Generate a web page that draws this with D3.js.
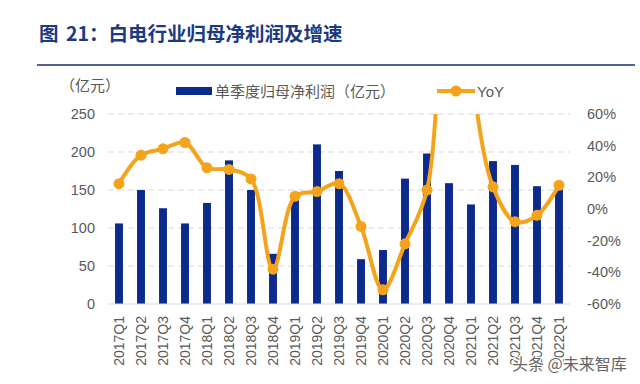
<!DOCTYPE html>
<html><head><meta charset="utf-8">
<script src="https://cdn.jsdelivr.net/npm/d3@7"></script>
<style>body{margin:0;background:#fff}svg{display:block}</style>
</head><body>
<svg id="c" width="640" height="384"></svg>
<script>
const categories = ["2017Q1","2017Q2","2017Q3","2017Q4","2018Q1","2018Q2","2018Q3","2018Q4","2019Q1","2019Q2","2019Q3","2019Q4","2020Q1","2020Q2","2020Q3","2020Q4","2021Q1","2021Q2","2021Q3","2021Q4","2022Q1"];
const profit = [106,150,126,106,133,189,150,66,143,210,175,59,71,165,198,159,131,188,183,155,151];
const yoy = [16,34,38,42,26,25,19,-38,8,11,16,-11,-51,-22,12,170,85,14,-8,-4,15];
const leftTicks = [0,50,100,150,200,250];
const rightTicks = [-60,-40,-20,0,20,40,60];

const svg = d3.select("#c");
const cjk = "'Noto Sans CJK SC','Noto Sans',sans-serif";
const lat = "'Liberation Sans','Noto Sans',sans-serif";
const m = {l:108, r:570, t:114, b:304};

const x = d3.scaleBand().domain(categories).range([m.l, m.r]).paddingInner(0.64).paddingOuter(0.32);
const yL = d3.scaleLinear().domain([0,250]).range([m.b, m.t]);
const yR = d3.scaleLinear().domain([-60,60]).range([m.b, m.t]);

// title
svg.append("text").attr("x",39).attr("y",41).attr("fill","#1B3A80").attr("font-family",cjk)
  .attr("font-weight","bold").attr("font-size",19.5).style("white-space","pre").attr("word-spacing",3)
  .text("图 21：白电行业归母净利润及增速");
svg.append("line").attr("x1",37).attr("x2",635).attr("y1",65).attr("y2",65).attr("stroke","#1B2F6E").attr("stroke-width",1.5);

// unit
svg.append("text").attr("x",60).attr("y",91).attr("fill","#595959").attr("font-family",cjk).attr("font-size",15).text("（亿元）");

// gridlines
const grid = svg.append("g");
leftTicks.filter(d=>d>0).forEach(t=>{
  grid.append("line").attr("x1",m.l).attr("x2",m.r).attr("y1",yL(t)).attr("y2",yL(t))
    .attr("stroke","#D9D9D9").attr("stroke-dasharray","6,4").attr("stroke-width",1);
});

// left axis
const axL = d3.axisLeft(yL).tickValues(leftTicks).tickSize(0).tickPadding(13);
const gL = svg.append("g").attr("transform",`translate(${m.l},0)`).call(axL);
gL.select(".domain").remove();
gL.selectAll("text").attr("fill","#595959").attr("font-family",lat).attr("font-size",14.5);

// right axis
const axR = d3.axisRight(yR).tickValues(rightTicks).tickSize(0).tickPadding(17).tickFormat(d=>d+"%");
const gR = svg.append("g").attr("transform",`translate(${m.r},0)`).call(axR);
gR.select(".domain").remove();
gR.selectAll("text").attr("fill","#595959").attr("font-family",lat).attr("font-size",14.5);

// bars
svg.append("g").selectAll("rect").data(profit).join("rect")
  .attr("x",(d,i)=>x(categories[i])).attr("width",x.bandwidth())
  .attr("y",d=>yL(d)).attr("height",d=>yL(0)-yL(d)).attr("fill","#0B2A8C");

// baseline
svg.append("line").attr("x1",m.l).attr("x2",m.r).attr("y1",yL(0)).attr("y2",yL(0)).attr("stroke","#D9D9D9").attr("stroke-width",1.2);

// x axis labels
const axX = d3.axisBottom(x).tickSize(0).tickPadding(0);
const gX = svg.append("g").attr("transform",`translate(0,${m.b})`).call(axX);
gX.select(".domain").remove();
gX.selectAll("text").attr("fill","#595959").attr("font-family",lat).attr("font-size",14)
  .attr("text-anchor","end").attr("dy","0.35em").attr("transform","translate(0,12) rotate(-90)").attr("x",0).attr("y",0);

// line clip
svg.append("clipPath").attr("id","clip").append("rect").attr("x",0).attr("y",m.t).attr("width",640).attr("height",384-m.t);
const line = d3.line().x((d,i)=>x(categories[i])+x.bandwidth()/2).y(d=>yR(d)).curve(d3.curveCatmullRom.alpha(0.5));
const lg = svg.append("g").attr("clip-path","url(#clip)");
lg.append("path").datum(yoy).attr("d",line).attr("fill","none").attr("stroke","#F5A31A").attr("stroke-width",4);
lg.selectAll("circle").data(yoy).join("circle")
  .attr("cx",(d,i)=>x(categories[i])+x.bandwidth()/2).attr("cy",d=>yR(d)).attr("r",5.5).attr("fill","#F5A31A");

// legend
svg.append("rect").attr("x",176).attr("y",87).attr("width",36).attr("height",8).attr("fill","#0B2A8C");
svg.append("text").attr("x",215).attr("y",97).attr("fill","#595959").attr("font-family",cjk).attr("font-size",15).text("单季度归母净利润（亿元）");
svg.append("line").attr("x1",437).attr("x2",475).attr("y1",91).attr("y2",91).attr("stroke","#F5A31A").attr("stroke-width",4);
svg.append("circle").attr("cx",456).attr("cy",91).attr("r",5.5).attr("fill","#F5A31A");
svg.append("text").attr("x",477).attr("y",97).attr("fill","#595959").attr("font-family",lat).attr("font-size",15).text("YoY");

// watermark
svg.append("text").attr("x",512).attr("y",370).attr("fill","#666").attr("stroke","#fff").attr("stroke-width",2.5).attr("paint-order","stroke")
  .attr("font-family",cjk).attr("font-size",16).text("头条 @未来智库");
</script>
</body></html>
